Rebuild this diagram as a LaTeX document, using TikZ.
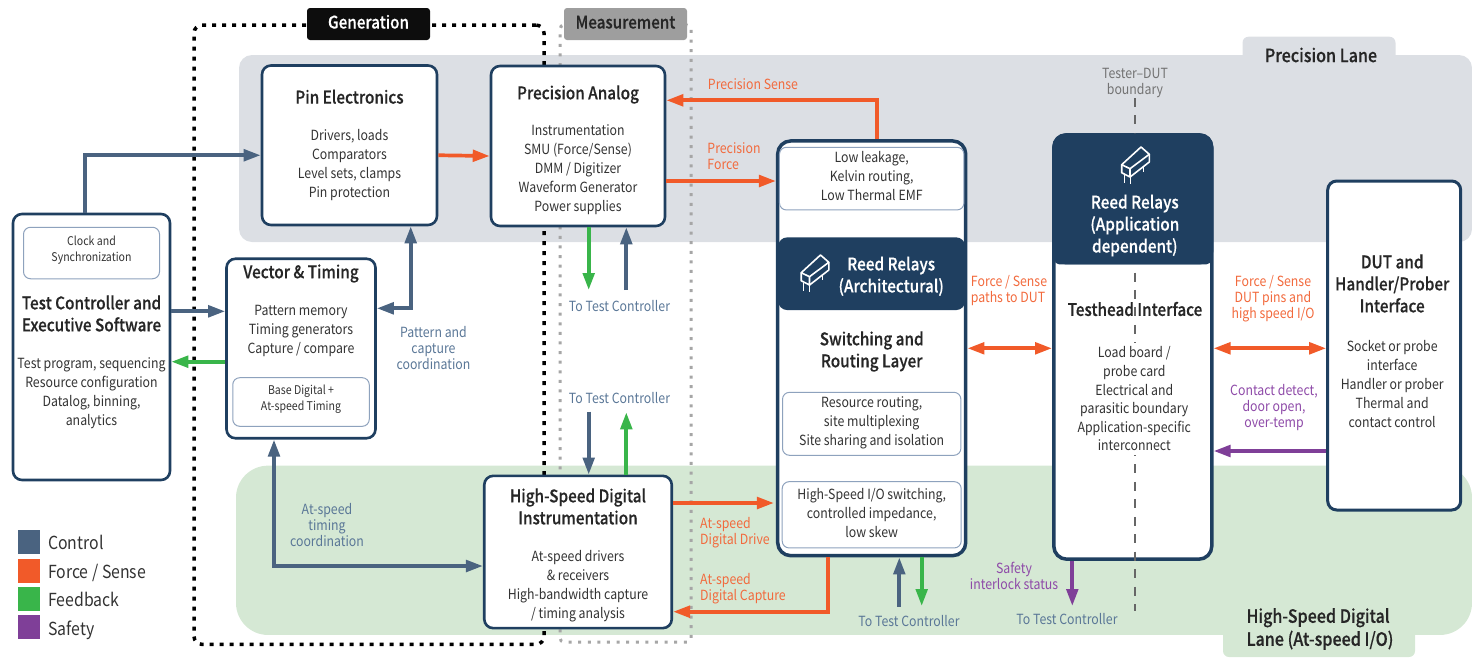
\documentclass[tikz,border=0pt]{standalone}
\usepackage{fontspec}
\setmainfont[FakeStretch=0.88, BoldFont={Noto Sans CJK SC Medium}, BoldFeatures={FakeBold=0.4}]{Noto Sans CJK SC}
\usetikzlibrary{arrows.meta}

\definecolor{navy}{HTML}{1F3F60}
\definecolor{ctrl}{HTML}{4A6380}
\definecolor{ctrltxt}{HTML}{5A7797}
\definecolor{force}{HTML}{F15A29}
\definecolor{forcetxt}{HTML}{F26A3D}
\definecolor{feedback}{HTML}{39B54A}
\definecolor{safety}{HTML}{7F3F98}
\definecolor{safetytxt}{HTML}{8E4AA8}
\definecolor{lanegrey}{HTML}{DCDFE4}
\definecolor{lanegreen}{HTML}{D5E8D4}
\definecolor{thinline}{HTML}{8EA2BD}
\definecolor{bodyink}{HTML}{333333}

\tikzstyle{lane} = [rectangle, inner sep=0pt, outer sep=0pt]
\tikzstyle{frame} = [rectangle, inner sep=0pt, outer sep=0pt]
\tikzstyle{block} = [rectangle, rounded corners=9pt, inner sep=0pt, draw=navy, line width=2.6pt, fill=white]
\tikzstyle{layer} = [rectangle, rounded corners=13pt, inner sep=0pt, draw=navy, line width=3.5pt, fill=white]
\tikzstyle{relay} = [rectangle, rounded corners=9pt, inner sep=0pt, fill=navy]
\tikzstyle{inbox} = [rectangle, rounded corners=7pt, inner sep=0pt, draw=thinline, line width=1pt, fill=white]
\tikzstyle{titletext} = [align=center, text=black!85, font=\fontsize{17.4}{22}\selectfont\bfseries]
\tikzstyle{lanetext} = [titletext, font=\fontsize{18.3}{23}\selectfont\bfseries]
\tikzstyle{grouptext} = [rectangle, rounded corners=3pt, minimum width=123pt, minimum height=32pt, inner sep=0pt, text height=13pt, text depth=4pt, font=\fontsize{17.3}{20}\selectfont\bfseries]
\tikzstyle{relaytext} = [titletext, text=white]
\tikzstyle{bodytext} = [align=center, text=bodyink, font=\fontsize{14}{19}\selectfont]
\tikzstyle{smalltext} = [align=center, text=bodyink, font=\fontsize{12}{16}\selectfont]
\tikzstyle{note} = [align=center, font=\fontsize{14}{16}\selectfont]
\tikzstyle{ctrlnote} = [note, text=ctrltxt]
\tikzstyle{forcenote} = [note, text=forcetxt]
\tikzstyle{safetynote} = [note, text=safetytxt]
\tikzstyle{swatch} = [rectangle, minimum width=22pt, minimum height=24pt, inner sep=0pt]
\tikzstyle{legendtext} = [anchor=west, inner sep=0pt, text height=14pt, text depth=0pt, text=bodyink, font=\fontsize{18}{22}\selectfont]
\tikzstyle{arrow} = [line width=3.7pt, ->, >={Triangle[length=17pt,width=11.5pt]}]
\tikzstyle{control} = [arrow, draw=ctrl]
\tikzstyle{forcesense} = [arrow, draw=force]
\tikzstyle{feedbackline} = [arrow, draw=feedback]
\tikzstyle{safetyline} = [arrow, draw=safety]

\newcommand{\relayicon}[1]{
\begin{scope}[shift={(#1)}, draw=white, line width=1.6pt, line join=round]
\draw (-13.8,-0.8) -- (5.5,-18.5) -- (13.8,-11.2) -- (-5.5,3.2) -- cycle;
\draw (-13.8,-0.8) -- (-13.8,7.2) -- (-5.5,11.5) -- (-5.5,3.2);
\draw (-5.5,11.5) -- (13.8,-3.5) -- (13.8,-11.2);
\draw[line width=1pt] (-11.2,9.5) -- (-11.2,17.5) (-5.5,11.5) -- (-5.5,18.8) (7.8,1.5) -- (7.8,6.5);
\end{scope}
}

\begin{document}
\begin{tikzpicture}[x=1pt, y=-1pt, node distance=100pt]
\useasboundingbox (0,0) rectangle (1472,657);

% lanes
\node(precisionlane) [lane, fill=lanegrey, rounded corners=13pt, minimum width=1233pt, minimum height=187pt] at (855.5,148.5) {};
\node(precisiontab) [lane, fill=lanegrey, rounded corners=6pt, minimum width=153pt, minimum height=30pt] at (1319,51.7) {};
\node(speedlane) [lane, fill=lanegreen, rounded corners=32pt, minimum width=1236pt, minimum height=169.3pt] at (854,550.3) {};
\node(speedtab) [lane, fill=lanegreen, rounded corners=6pt, minimum width=192pt, minimum height=40pt] at (1319,637) {};
\node(precisionlabel) [lanetext] at (1321,55) {Precision Lane};
\node(speedlabel) [lanetext, align=left] at (1320,629) {High-Speed Digital\\Lane (At-speed I/O)};

% generation and measurement groups
\node(genframe) [frame, draw=black, line width=3.5pt, dash pattern=on 4pt off 6pt, rounded corners=8pt, minimum width=350pt, minimum height=619.3pt] at (369,334.7) {};
\node(measframe) [frame, draw=black!35, line width=3pt, dash pattern=on 3pt off 6.6pt, rounded corners=4pt, minimum width=131pt, minimum height=617pt] at (625.5,333.5) {};
\node(genlabel) [grouptext, fill=black!95, text=white] at (368.5,24) {Generation};
\node(measlabel) [grouptext, fill=black!38, text=black!85, right of = genlabel, node distance=257pt] {Measurement};

% left column
\node(test) [block, minimum width=157pt, minimum height=266pt] at (91.5,347) {};
\node(clock) [inbox, above of = test, node distance=94pt, minimum width=136pt, minimum height=51.5pt] {};
\node(clocktext) [smalltext, above of = clock, node distance=3pt] {Clock and\\Synchronization};
\node(testtitle) [titletext, above of = test, node distance=33.5pt] {Test Controller and\\Executive Software};
\node(testbody) [bodytext, below of = test, node distance=46pt] {Test program, sequencing\\Resource configuration\\Datalog, binning,\\analytics};

\node(pin) [block, minimum width=175pt, minimum height=159.5pt] at (349.5,145.25) {};
\node(pintitle) [titletext, above of = pin, node distance=48.5pt] {Pin Electronics};
\node(pinbody) [bodytext, below of = pin, node distance=19.5pt] {Drivers, loads\\Comparators\\Level sets, clamps\\Pin protection};

\node(vector) [block, below of = pin, node distance=203.25pt, xshift=-48.5pt, minimum width=149pt, minimum height=179.5pt] {};
\node(vectortitle) [titletext, above of = vector, node distance=75pt] {Vector \& Timing};
\node(vectorbody) [bodytext, above of = vector, node distance=17.5pt] {Pattern memory\\Timing generators\\Capture / compare};
\node(basedigital) [inbox, below of = vector, node distance=53.5pt, minimum width=136.5pt, minimum height=48.6pt] {};
\node(basedigitaltext) [smalltext, above of = basedigital, node distance=3pt] {Base Digital +\\At-speed Timing};

% instruments
\node(analog) [block, right of = pin, node distance=228.5pt, yshift=-0.75pt, minimum width=174pt, minimum height=160pt] {};
\node(analogtitle) [titletext, above of = analog, node distance=51.5pt] {Precision Analog};
\node(analogbody) [bodytext, below of = analog, node distance=24pt] {Instrumentation\\SMU (Force/Sense)\\DMM / Digitizer\\Waveform Generator\\Power supplies};

\node(hsdi) [block, below of = analog, node distance=406pt, minimum width=187.5pt, minimum height=152.3pt] {};
\node(hsdititle) [titletext, above of = hsdi, node distance=45.5pt] {High-Speed Digital\\Instrumentation};
\node(hsdibody) [bodytext, below of = hsdi, node distance=34.5pt] {At-speed drivers\\\& receivers\\High-bandwidth capture\\/ timing analysis};

% switching layer
\node(switch) [layer, minimum width=188pt, minimum height=414.7pt] at (871.7,348.3) {};
\node(lowleak) [inbox, above of = switch, node distance=169.7pt, minimum width=184.5pt, minimum height=62.7pt] {};
\node(lowleaktext) [bodytext, above of = lowleak, node distance=3pt] {Low leakage,\\Kelvin routing,\\Low Thermal EMF};
\node(reedarch) [relay, above of = switch, node distance=74.6pt, minimum width=187pt, minimum height=72.7pt] {};
\node(reedarchtext) [relaytext, right of = reedarch, node distance=19.5pt, yshift=-2.5pt] {Reed Relays\\(Architectural)};
\relayicon{815,273.5}
\node(switchtitle) [titletext, below of = switch, node distance=3.2pt] {Switching and\\Routing Layer};
\node(resource) [inbox, below of = switch, node distance=75.5pt, minimum width=178.4pt, minimum height=63pt] {};
\node(resourcetext) [bodytext, above of = resource, node distance=1pt] {Resource routing,\\site multiplexing\\Site sharing and isolation};
\node(hsswitch) [inbox, below of = switch, node distance=166.5pt, minimum width=179pt, minimum height=66.3pt] {};
\node(hsswitchtext) [bodytext, above of = hsswitch, node distance=2pt] {High-Speed I/O switching,\\controlled impedance,\\low skew};

% testhead and boundary
\node(testhead) [layer, minimum width=158pt, minimum height=424.4pt] at (1132.8,347) {};
\coordinate(boundtop) at (1135,98);
\coordinate(boundbot) at (1135,611);
\draw [draw=black!60, line width=2pt, dash pattern=on 9pt off 8.45pt] (boundtop) -- (boundbot);
\node(reedapp) [relay, rounded corners=13pt, above of = testhead, node distance=148.2pt, minimum width=161pt, minimum height=131pt] {};
\node(reedappfoot) [relay, rounded corners=5pt, above of = testhead, node distance=115pt, minimum width=157pt, minimum height=64.8pt] {};
\relayicon{1135.5,165.5}
\node(reedapptext) [relaytext, above of = testhead, node distance=121.5pt, xshift=2pt] {Reed Relays\\(Application\\dependent)};
\node(testheadtitle) [titletext, above of = testhead, node distance=38pt, xshift=2.2pt] {Testhead Interface};
\node(testheadbody) [bodytext, fill=white, inner sep=4pt, font=\fontsize{14}{18.6}\selectfont, below of = testhead, node distance=52pt, xshift=1.5pt] {Load board /\\probe card\\Electrical and\\parasitic boundary\\Application-specific\\interconnect};

\node(dut) [block, line width=3pt, minimum width=133pt, minimum height=329pt] at (1394.2,345.5) {};
\node(duttitle) [titletext, above of = dut, node distance=62pt, xshift=-2pt] {DUT and\\Handler/Prober\\Interface};
\node(dutbody) [bodytext, below of = dut, node distance=39pt, xshift=-2pt] {Socket or probe\\interface\\Handler or prober\\Thermal and\\contact control};

% free arrow ends
\coordinate(analogfb) at (588.7,290);
\coordinate(analogctrl) at (626.3,290);
\coordinate(hsdictrl) at (588.7,411.7);
\coordinate(hsdifb) at (626.3,412.3);
\coordinate(switchctrl) at (899.3,606.7);
\coordinate(switchfb) at (921.7,606);
\coordinate(safetyend) at (1072.3,606);

% arrows
\draw [control] ([xshift=-6.5pt]test.north) |- ([yshift=-10pt]pin.west);
\draw [forcesense] ([yshift=-10pt]pin.east) -- ([yshift=-10pt]analog.west);
\draw [control] ([yshift=35.7pt]test.east) -- ([yshift=37.2pt]vector.west);
\draw [feedbackline] ([yshift=-13.2pt]vector.west) -- ([yshift=-14.7pt]test.east);
\draw [control, <->] ([yshift=40.2pt]vector.east) -| ([xshift=61.2pt]pin.south);
\draw [control, <->] ([xshift=-27pt]vector.south) |- ([yshift=-14pt]hsdi.west);
\draw [forcesense] ([xshift=5.3pt]switch.north) |- ([yshift=45.7pt]analog.east);
\draw [forcesense] ([yshift=-35pt]analog.east) -- ([yshift=167.3pt]switch.west);
\draw [feedbackline] (analogfb |- analog.south) -- (analogfb);
\draw [control] (analogctrl) -- (analogctrl |- analog.south);
\draw [control] (hsdictrl) -- (hsdictrl |- hsdi.north);
\draw [feedbackline] (hsdifb |- hsdi.north) -- (hsdifb);
\draw [forcesense, shorten >=2pt] ([yshift=49pt]hsdi.east) -- ([yshift=-154.7pt]switch.west);
\draw [forcesense] ([xshift=-44pt]switch.south) |- ([yshift=-59.7pt]hsdi.east);
\draw [control] (switchctrl) -- (switchctrl |- switch.south);
\draw [feedbackline] (switchfb |- switch.south) -- (switchfb);
\draw [forcesense, <->] (switch.east) -- (testhead.west |- switch.east);
\draw [forcesense, <->] (testhead.east |- switch.east) -- (dut.west |- switch.east);
\draw [safetyline] ([yshift=-105.5pt]dut.west) -- ([yshift=-104pt]testhead.east);
\draw [safetyline] (safetyend |- testhead.south) -- (safetyend);

% connector labels
\node(sensenote) [forcenote, align=left] at (753,84.5) {Precision Sense};
\node(forcenote) [forcenote, align=left] at (734,156) {Precision\\Force};
\node(drivenote) [forcenote, align=left] at (735,533) {At-speed\\Digital Drive};
\node(capturenote) [forcenote, align=left] at (743,589) {At-speed\\Digital Capture};
\node(pathsnote) [forcenote, align=left] at (1009,291) {Force / Sense\\paths to DUT};
\node(pinsnote) [forcenote] at (1273,299) {Force / Sense\\DUT pins and\\high speed I/O};
\node(contactnote) [safetynote] at (1274,408) {Contact detect,\\door open,\\over-temp};
\node(interlocknote) [safetynote] at (1014,576) {Safety\\interlock status};
\node(patternnote) [ctrlnote] at (433.5,348) {Pattern and\\capture\\coordination};
\node(timingnote) [ctrlnote] at (327,525) {At-speed\\timing\\coordination};
\node(tc1note) [ctrlnote] at (619.5,306) {To Test Controller};
\node(tc2note) [ctrlnote] at (619.5,398) {To Test Controller};
\node(tc3note) [ctrlnote] at (909,621) {To Test Controller};
\node(tc4note) [ctrlnote] at (1067,619) {To Test Controller};
\node(boundnote) [note, text=black!55] at (1135,83) {Tester–DUT\\boundary};

% legend
\node(swatchctrl) [swatch, fill=ctrl] at (29,542) {};
\node(swatchforce) [swatch, fill=force, below of = swatchctrl, node distance=29pt] {};
\node(swatchfb) [swatch, fill=feedback, below of = swatchforce, node distance=28pt] {};
\node(swatchsafety) [swatch, fill=safety, below of = swatchfb, node distance=28pt] {};
\node(legendctrl) [right of = swatchctrl, node distance=19pt, legendtext] {Control};
\node(legendforce) [right of = swatchforce, node distance=19pt, legendtext] {Force / Sense};
\node(legendfb) [right of = swatchfb, node distance=19pt, legendtext] {Feedback};
\node(legendsafety) [right of = swatchsafety, node distance=19pt, yshift=-1pt, legendtext] {Safety};

\end{tikzpicture}
\end{document}
